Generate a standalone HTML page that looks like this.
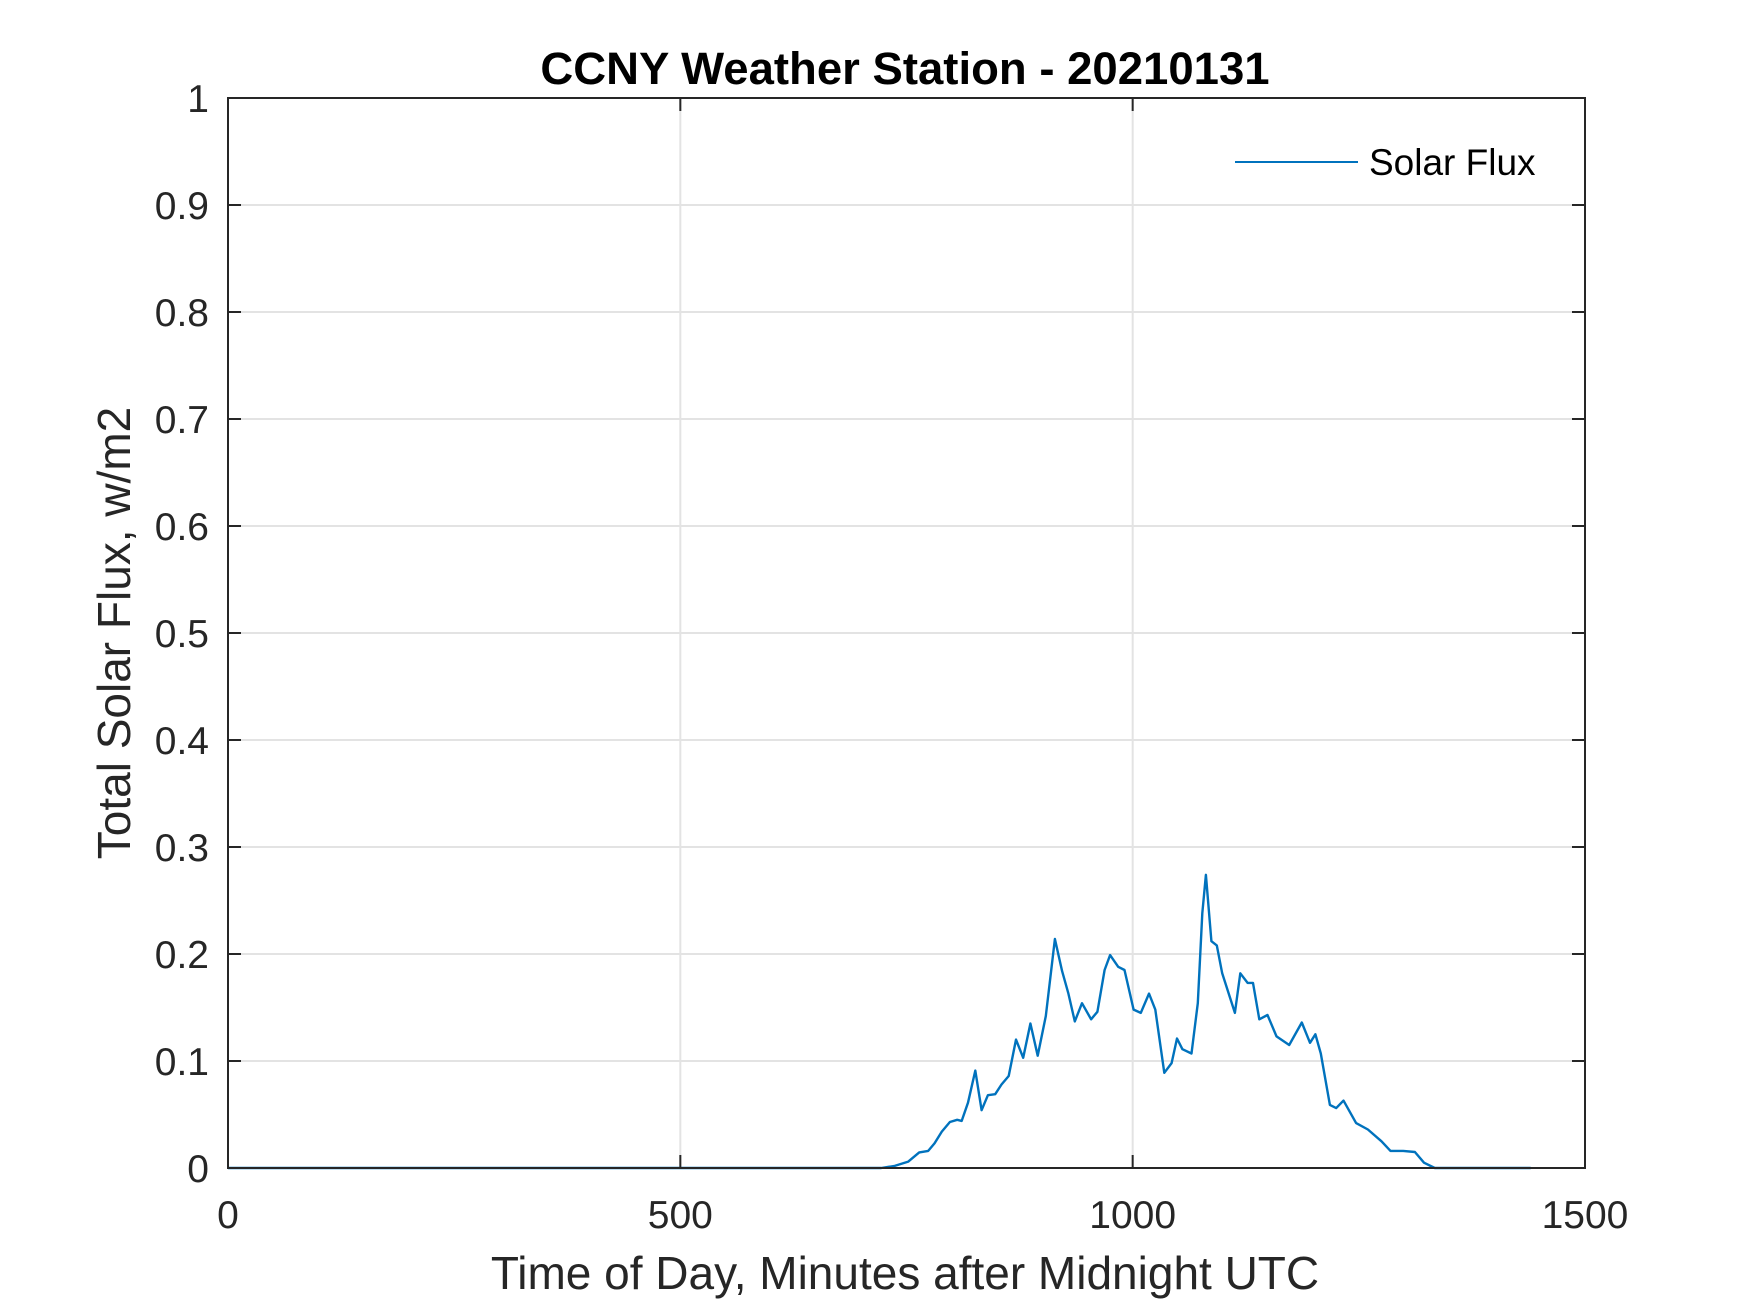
<!DOCTYPE html>
<html><head><meta charset="utf-8"><style>
html,body{margin:0;padding:0;background:#fff}
svg{display:block;font-family:"Liberation Sans",Arial,sans-serif}
</style></head><body>
<svg id="chart" width="1750" height="1313" viewBox="0 0 1750 1313">
<rect width="1750" height="1313" fill="#fff"/>
<g id="grid"></g>
<g id="series"></g>
<rect x="228" y="98" width="1357" height="1070" fill="none" stroke="#262626" stroke-width="2"/>
<g id="ticks"></g>
<text x="905" y="84" text-anchor="middle" font-size="45.5" font-weight="bold" fill="#000">CCNY Weather Station - 20210131</text>
<text x="905" y="1289" text-anchor="middle" font-size="46" fill="#262626">Time of Day, Minutes after Midnight UTC</text>
<text transform="translate(130,633) rotate(-90)" text-anchor="middle" font-size="46" fill="#262626">Total Solar Flux, w/m2</text>
<g>
<line x1="1235" y1="162" x2="1358" y2="162" stroke="#0072BD" stroke-width="2"/>
<text x="1369" y="175" font-size="37" fill="#000">Solar Flux</text>
</g>
</svg>
<script>
const xTicks=[0,500,1000,1500];
const yTicks=[0,0.1,0.2,0.3,0.4,0.5,0.6,0.7,0.8,0.9,1];
const yTickLabels=["0","0.1","0.2","0.3","0.4","0.5","0.6","0.7","0.8","0.9","1"];
const minutes=[0,687,722,737,752,764,774,781,789,798,806,811,818,826,833,840,848,855,863,871,879,887,895,904,914,922,929,936,944,954,961,969,975,984,991,1001,1009,1018,1025,1035,1043,1049,1055,1065,1072,1077,1081,1087,1093,1099,1113,1119,1127,1133,1140,1149,1159,1173,1187,1196,1202,1208,1218,1225,1233,1247,1260,1275,1285,1299,1312,1322,1334,1440];
const flux=[0,0,0,0.002,0.006,0.0146,0.016,0.023,0.034,0.043,0.045,0.044,0.061,0.091,0.054,0.068,0.069,0.078,0.086,0.120,0.103,0.135,0.105,0.142,0.214,0.184,0.163,0.137,0.154,0.139,0.146,0.185,0.199,0.188,0.185,0.148,0.145,0.163,0.148,0.089,0.098,0.121,0.111,0.107,0.154,0.238,0.274,0.212,0.208,0.182,0.145,0.182,0.173,0.173,0.139,0.143,0.123,0.115,0.136,0.117,0.125,0.107,0.059,0.056,0.063,0.042,0.036,0.025,0.016,0.016,0.015,0.005,0,0];
const L=228,R=1585,T=98,B=1168;
const sx=v=>L+(v-0)/(1500-0)*(R-L);
const sy=v=>B-(v-0)/(1-0)*(B-T);
const NS="http://www.w3.org/2000/svg";
const grid=document.getElementById('grid'),ticks=document.getElementById('ticks'),series=document.getElementById('series');
function mk(tag,attrs,parent){const e=document.createElementNS(NS,tag);for(const k in attrs)e.setAttribute(k,attrs[k]);parent.appendChild(e);return e;}
xTicks.forEach((t,i)=>{
  const x=sx(t);
  if(i>0&&i<xTicks.length-1){const g=mk('line',{x1:x,y1:T,x2:x,y2:B,stroke:'#e3e3e3','stroke-width':2},grid);
  
  }
  const a=mk('line',{x1:x,y1:B,x2:x,y2:B-13,stroke:'#262626','stroke-width':2},ticks);
  
  
  const b=mk('line',{x1:x,y1:T,x2:x,y2:T+13,stroke:'#262626','stroke-width':2},ticks);
  
  
  const lb=mk('text',{x:x,y:1228,'text-anchor':'middle','font-size':39,fill:'#262626'},ticks);
  lb.textContent=String(t);
  
  
});
yTicks.forEach((t,i)=>{
  const y=sy(t);
  if(i>0&&i<yTicks.length-1){const g=mk('line',{x1:L,y1:y,x2:R,y2:y,stroke:'#e3e3e3','stroke-width':2},grid);
  
  }
  const a=mk('line',{x1:L,y1:y,x2:L+13,y2:y,stroke:'#262626','stroke-width':2},ticks);
  
  
  const b=mk('line',{x1:R,y1:y,x2:R-13,y2:y,stroke:'#262626','stroke-width':2},ticks);
  
  
  const lb=mk('text',{x:209,y:y+14,'text-anchor':'end','font-size':39,fill:'#262626'},ticks);
  lb.textContent=yTickLabels[i];
  
  
});
const d=minutes.map((m,i)=>(i?'L':'M')+sx(m).toFixed(1)+','+sy(flux[i]).toFixed(1)).join(' ');
const p=mk('path',{d:d,fill:'none',stroke:'#0072BD','stroke-width':2.4,'stroke-linejoin':'round'},series);


</script>
</body></html>
